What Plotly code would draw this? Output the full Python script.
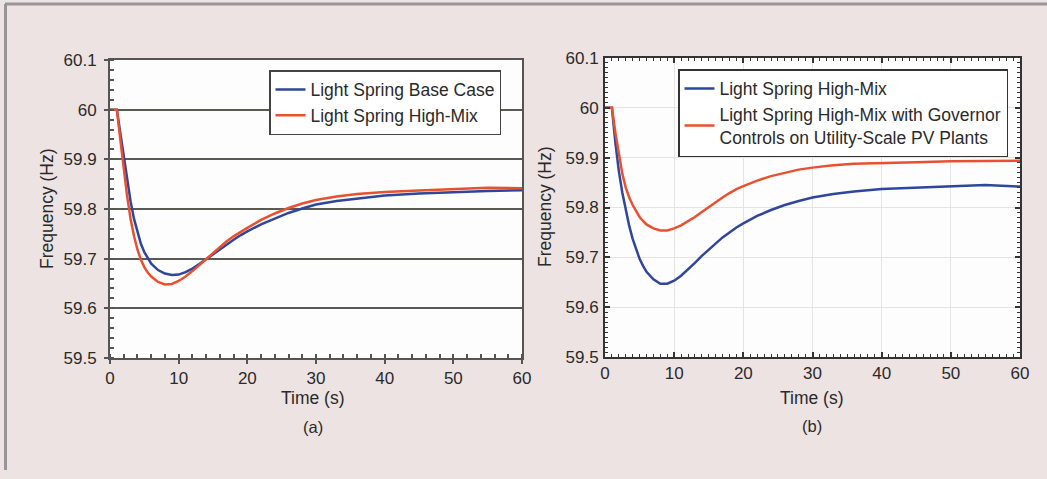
import plotly.graph_objects as go

# ---- data ----
time_s = [0, 1, 1.5, 2, 2.5, 3, 3.5, 4, 4.5, 5, 5.5, 6, 7, 8, 9, 10, 11, 12, 13, 14, 15, 16, 17, 18, 19, 20,
          22, 24, 26, 28, 30, 33, 36, 40, 45, 50, 55, 60]

a_base_case = [60.0, 60.0, 59.953, 59.907, 59.86, 59.815, 59.78, 59.752, 59.730, 59.713, 59.700, 59.690,
               59.677, 59.670, 59.667, 59.668, 59.673, 59.680, 59.689, 59.699, 59.709, 59.719, 59.729, 59.738,
               59.747, 59.755, 59.769, 59.781, 59.792, 59.801, 59.809, 59.816, 59.821, 59.827, 59.831, 59.834,
               59.836, 59.838]
a_high_mix = [60.0, 60.0, 59.94, 59.88, 59.825, 59.78, 59.745, 59.718, 59.698, 59.683, 59.672, 59.664,
              59.653, 59.648, 59.649, 59.655, 59.664, 59.675, 59.687, 59.700, 59.712, 59.724, 59.735, 59.745,
              59.754, 59.762, 59.778, 59.791, 59.802, 59.811, 59.818, 59.825, 59.830, 59.834, 59.837, 59.840,
              59.843, 59.842]

b_high_mix = [60.0, 60.0, 59.93, 59.873, 59.83, 59.795, 59.763, 59.737, 59.715, 59.697, 59.683, 59.671,
              59.656, 59.647, 59.647, 59.653, 59.663, 59.675, 59.689, 59.703, 59.716, 59.728, 59.740, 59.750,
              59.760, 59.768, 59.783, 59.795, 59.805, 59.813, 59.820, 59.827, 59.832, 59.837, 59.840, 59.843,
              59.845, 59.842]
b_governor = [60.0, 60.0, 59.95, 59.905, 59.868, 59.84, 59.82, 59.805, 59.792, 59.781, 59.773, 59.766,
              59.758, 59.754, 59.754, 59.758, 59.764, 59.772, 59.781, 59.791, 59.801, 59.811, 59.820, 59.829,
              59.837, 59.843, 59.854, 59.863, 59.870, 59.876, 59.880, 59.885, 59.888, 59.890, 59.891, 59.893,
              59.893, 59.894]

x_ticks = [0, 10, 20, 30, 40, 50, 60]
y_ticks = [59.5, 59.6, 59.7, 59.8, 59.9, 60.0, 60.1]
y_tick_text = ["59.5", "59.6", "59.7", "59.8", "59.9", "60", "60.1"]

BLUE = "#2f469c"
RED = "#e8502f"
FONT = "Liberation Sans, Arial, Helvetica, sans-serif"
TXT = "#2a2a2a"
W, H = 1047, 479

fig = go.Figure()
line_style = dict(width=2.5, shape="linear")
fig.add_trace(go.Scatter(x=time_s, y=a_base_case, mode="lines", name="Light Spring Base Case",
                         line=dict(color=BLUE, **line_style), xaxis="x", yaxis="y", legend="legend"))
fig.add_trace(go.Scatter(x=time_s, y=a_high_mix, mode="lines", name="Light Spring High-Mix",
                         line=dict(color=RED, **line_style), xaxis="x", yaxis="y", legend="legend"))
fig.add_trace(go.Scatter(x=time_s, y=b_high_mix, mode="lines", name="Light Spring High-Mix",
                         line=dict(color=BLUE, **line_style), xaxis="x2", yaxis="y2", legend="legend2"))
fig.add_trace(go.Scatter(x=time_s, y=b_governor, mode="lines",
                         name="Light Spring High-Mix with Governor<br>Controls on Utility-Scale PV Plants",
                         line=dict(color=RED, **line_style), xaxis="x2", yaxis="y2", legend="legend2"))

tickfont = dict(family=FONT, size=17, color=TXT)

# panel (a)
xa_dom = [110 / W, 522 / W]
ya_dom = [(H - 358) / H, (H - 60) / H]
# panel (b)
xb_dom = [605 / W, 1020 / W]
yb_dom = [(H - 357) / H, (H - 58) / H]

fig.update_layout(
    width=W, height=H,
    margin=dict(l=0, r=0, t=0, b=0, autoexpand=False),
    paper_bgcolor="#ede3e2",
    plot_bgcolor="#fefdfd",
    font=dict(family=FONT, color=TXT),
    xaxis=dict(domain=xa_dom, anchor="y", range=[0, 60], tickvals=x_ticks, tickfont=tickfont, automargin=False,
               showgrid=False, zeroline=False, showline=True, linecolor="#555", linewidth=2,
               mirror=True, ticks="outside", ticklen=4, tickcolor="#555", tickwidth=1.5,
               minor=dict(dtick=2, ticks="inside", ticklen=4, tickcolor="#555", tickwidth=1.5, showgrid=False)),
    yaxis=dict(domain=ya_dom, anchor="x", range=[59.5, 60.1], tickvals=y_ticks, ticktext=y_tick_text,
               tickfont=tickfont, automargin=False, showgrid=True, gridcolor="#5a5a55", gridwidth=2, zeroline=False,
               showline=True, linecolor="#555", linewidth=2, mirror=True, ticklabelstandoff=4,
               ticks="outside", ticklen=4, tickcolor="#555", tickwidth=1.5,
               minor=dict(dtick=0.02, ticks="inside", ticklen=4, tickcolor="#555", tickwidth=1.5, showgrid=False)),
    xaxis2=dict(domain=xb_dom, anchor="y2", range=[0, 60], tickvals=x_ticks, tickfont=tickfont, automargin=False,
                showgrid=True, gridcolor="#e4e4e4", gridwidth=1.2, zeroline=False,
                showline=True, linecolor="#333", linewidth=2, mirror="allticks",
                ticks="inside", ticklen=5, tickcolor="#333", tickwidth=1.5,
                minor=dict(dtick=1, ticks="inside", ticklen=3, tickcolor="#333", tickwidth=1.2, showgrid=False)),
    yaxis2=dict(domain=yb_dom, anchor="x2", range=[59.5, 60.1], tickvals=y_ticks, ticktext=y_tick_text,
                tickfont=tickfont, automargin=False, showgrid=True, gridcolor="#e4e4e4", gridwidth=1.2, zeroline=False,
                showline=True, linecolor="#333", linewidth=2, mirror="allticks", ticklabelstandoff=1,
                ticks="inside", ticklen=5, tickcolor="#333", tickwidth=1.5,
                minor=dict(dtick=0.01, ticks="inside", ticklen=3, tickcolor="#333", tickwidth=1.2, showgrid=False)),
    legend=dict(x=269 / W, y=(H - 70) / H, xanchor="left", yanchor="top",
                bgcolor="#ffffff", bordercolor="#444", borderwidth=1.5,
                font=dict(family=FONT, size=17.5, color=TXT), tracegroupgap=0,
                itemwidth=30),
    legend2=dict(x=678 / W, y=(H - 69) / H, xanchor="left", yanchor="top",
                 bgcolor="#ffffff", bordercolor="#333", borderwidth=1.5,
                 font=dict(family=FONT, size=17.5, color=TXT), tracegroupgap=0,
                 itemwidth=30),
    showlegend=True,
)

# axis titles and sub-captions as paper annotations
def ann(text, x, y, angle=0, size=17.5):
    fig.add_annotation(text=text, x=x / W, y=(H - y) / H, xref="paper", yref="paper",
                       xanchor="center", yanchor="middle", textangle=angle, showarrow=False,
                       font=dict(family=FONT, size=size, color=TXT))

ann("Frequency (Hz)", 47, 209, angle=-90)
ann("Time (s)", 313, 398)
ann("(a)", 313, 427, size=16.5)
ann("Frequency (Hz)", 545, 207, angle=-90)
ann("Time (s)", 812, 398)
ann("(b)", 812, 426, size=16.5)

# outer frame (top and left edges)
fig.add_shape(type="line", xref="paper", yref="paper", x0=5 / W, x1=1, y0=(H - 4) / H, y1=(H - 4) / H,
              line=dict(color="#9a9595", width=3))
fig.add_shape(type="line", xref="paper", yref="paper", x0=5.5 / W, x1=5.5 / W, y0=(H - 470) / H, y1=(H - 4) / H,
              line=dict(color="#9a9595", width=3))

fig.write_html("out.html")
